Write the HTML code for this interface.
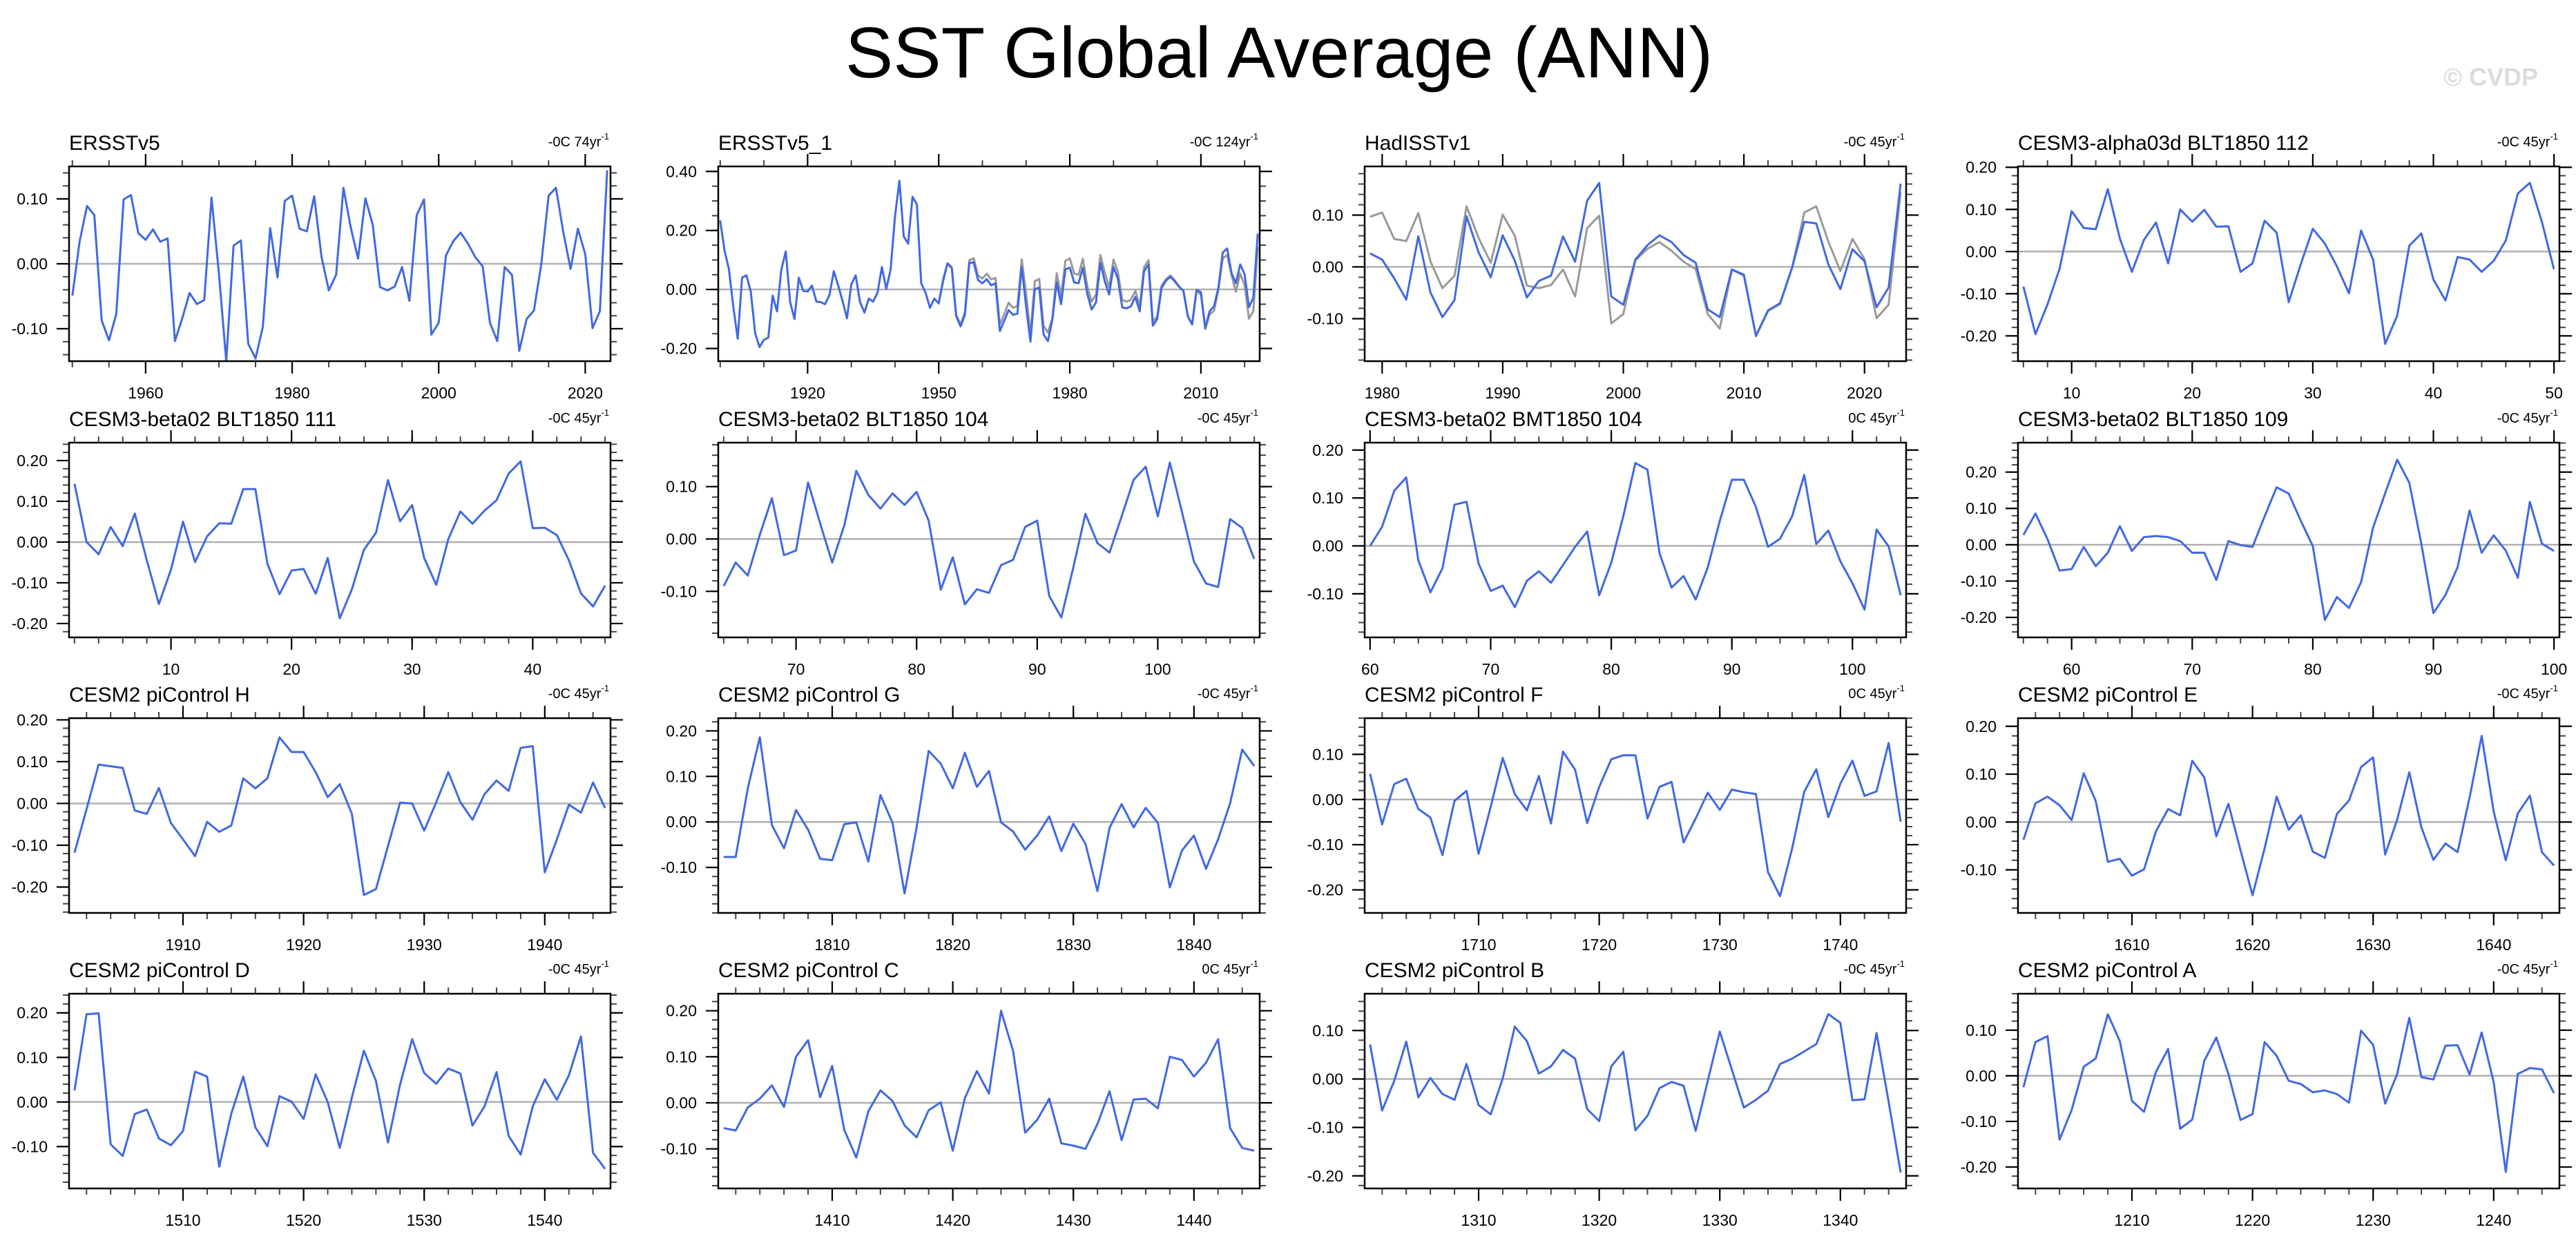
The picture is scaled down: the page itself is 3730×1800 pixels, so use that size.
<!DOCTYPE html>
<html>
<head>
<meta charset="utf-8">
<style>
html,body{margin:0;padding:0;background:#fff;}
svg{display:block;font-family:"Liberation Sans",Arial,sans-serif;}
</style>
</head>
<body>
<svg id="fig" width="3730" height="1800" viewBox="0 0 3730 1800" xmlns="http://www.w3.org/2000/svg">
<rect x="0" y="0" width="3730" height="1800" fill="#fff"/>
<text x="1852" y="112" font-size="104" text-anchor="middle" fill="#000">SST Global Average (ANN)</text>
<text x="3675" y="124" font-size="36" font-weight="bold" text-anchor="end" fill="#dcdcdc">© CVDP</text>
</svg>
<script>
const titles = ["ERSSTv5","ERSSTv5_1","HadISSTv1","CESM3-alpha03d BLT1850 112",
"CESM3-beta02 BLT1850 111","CESM3-beta02 BLT1850 104","CESM3-beta02 BMT1850 104","CESM3-beta02 BLT1850 109",
"CESM2 piControl H","CESM2 piControl G","CESM2 piControl F","CESM2 piControl E",
"CESM2 piControl D","CESM2 piControl C","CESM2 piControl B","CESM2 piControl A"];
const trendLabels = ["-0C 74yr","-0C 124yr","-0C 45yr","-0C 45yr",
"-0C 45yr","-0C 45yr","0C 45yr","-0C 45yr",
"-0C 45yr","-0C 45yr","0C 45yr","-0C 45yr",
"-0C 45yr","0C 45yr","-0C 45yr","-0C 45yr"];
const startYears = [1950,1900,1979,6, 2,64,60,56, 1901,1801,1701,1601, 1501,1401,1301,1201];
const yMins = [-0.15,-0.243,-0.182,-0.26, -0.234,-0.188,-0.191,-0.255, -0.262,-0.2,-0.251,-0.19, -0.194,-0.186,-0.226,-0.247];
const yMaxs = [0.15,0.417,0.194,0.202, 0.244,0.184,0.2155,0.281, 0.204,0.228,0.18,0.217, 0.243,0.237,0.176,0.18];
const yTickLabels = [
 [-0.1,0,0.1],[-0.2,0,0.2,0.4],[-0.1,0,0.1],[-0.2,-0.1,0,0.1,0.2],
 [-0.2,-0.1,0,0.1,0.2],[-0.1,0,0.1],[-0.1,0,0.1,0.2],[-0.2,-0.1,0,0.1,0.2],
 [-0.2,-0.1,0,0.1,0.2],[-0.1,0,0.1,0.2],[-0.2,-0.1,0,0.1],[-0.1,0,0.1,0.2],
 [-0.1,0,0.1,0.2],[-0.1,0,0.1,0.2],[-0.2,-0.1,0,0.1],[-0.2,-0.1,0,0.1]];
const yMinorSteps = [0.02,0.05,0.02,0.02, 0.02,0.02,0.02,0.02, 0.02,0.02,0.02,0.02, 0.02,0.02,0.02,0.02];
const xTickLabels = [
 [1960,1980,2000,2020],[1920,1950,1980,2010],[1980,1990,2000,2010,2020],[10,20,30,40,50],
 [10,20,30,40],[70,80,90,100],[60,70,80,90,100],[60,70,80,90,100],
 [1910,1920,1930,1940],[1810,1820,1830,1840],[1710,1720,1730,1740],[1610,1620,1630,1640],
 [1510,1520,1530,1540],[1410,1420,1430,1440],[1310,1320,1330,1340],[1210,1220,1230,1240]];
const xMinorSteps = [5,10,2,2, 2,2,2,2, 2,2,2,2, 2,2,2,2];

const ersstv5 = [-0.049,0.035,0.089,0.075,-0.087,-0.118,-0.077,0.099,0.106,0.047,
0.037,0.053,0.034,0.039,-0.119,-0.084,-0.045,-0.062,-0.056,0.102,
-0.015,-0.15,0.028,0.036,-0.123,-0.146,-0.097,0.055,-0.021,0.097,
0.105,0.054,0.05,0.104,0.011,-0.041,-0.017,0.117,0.056,0.008,
0.101,0.06,-0.036,-0.041,-0.035,-0.005,-0.057,0.075,0.099,-0.109,
-0.091,0.013,0.035,0.048,0.031,0.01,-0.004,-0.091,-0.119,-0.005,
-0.017,-0.134,-0.085,-0.072,-0.001,0.105,0.117,0.049,-0.008,0.054,
0.015,-0.099,-0.073,0.144];
const ersstv5_1 = [0.234,0.131,0.068,-0.058,-0.167,0.04,0.048,-0.007,-0.149,-0.195,
-0.171,-0.163,-0.021,-0.074,0.068,0.129,-0.043,-0.1,0.04,-0.005,
-0.007,0.013,-0.041,-0.043,-0.05,-0.019,0.062,0.013,-0.039,-0.098,
0.017,0.048,-0.043,-0.078,-0.031,-0.041,-0.011,0.076,0.001,0.068,
0.249,0.368,0.18,0.155,0.314,0.289,0.021,-0.011,-0.062,-0.031,
-0.047,0.028,0.088,0.072,-0.09,-0.125,-0.086,0.09,0.092,0.032,
0.021,0.035,0.014,0.021,-0.141,-0.106,-0.07,-0.086,-0.082,0.076,
-0.058,-0.177,0.001,0.006,-0.153,-0.175,-0.102,0.024,-0.05,0.068,
0.074,0.024,0.021,0.074,-0.015,-0.068,-0.044,0.09,0.028,-0.017,
0.076,0.036,-0.061,-0.064,-0.057,-0.025,-0.074,0.062,0.084,-0.123,
-0.1,0.005,0.03,0.043,0.028,0.009,-0.005,-0.09,-0.118,-0.002,
-0.009,-0.131,-0.074,-0.057,0.005,0.125,0.139,0.056,0.021,0.085,
0.052,-0.06,-0.028,0.189];
const hadisstv1 = [0.026,0.014,-0.022,-0.063,0.059,-0.049,-0.097,-0.064,0.098,0.028,
-0.02,0.061,0.012,-0.059,-0.027,-0.017,0.059,0.01,0.128,0.162,
-0.057,-0.073,0.014,0.042,0.061,0.048,0.023,0.008,-0.082,-0.097,
-0.005,-0.015,-0.133,-0.084,-0.07,-0.001,0.087,0.084,0.005,-0.043,
0.034,0.011,-0.078,-0.04,0.161];
const alpha03d112 = [-0.083,-0.196,-0.125,-0.041,0.096,0.056,0.053,0.148,0.031,-0.048,
0.028,0.069,-0.028,0.1,0.071,0.099,0.059,0.06,-0.048,-0.028,
0.073,0.045,-0.12,-0.03,0.054,0.019,-0.035,-0.099,0.05,-0.019,
-0.219,-0.152,0.014,0.043,-0.066,-0.116,-0.013,-0.019,-0.048,-0.022,
0.026,0.138,0.163,0.07,-0.042];
const beta02blt111 = [0.143,0.0,-0.03,0.037,-0.01,0.07,-0.045,-0.152,-0.068,0.05,
-0.049,0.014,0.046,0.045,0.13,0.13,-0.053,-0.128,-0.07,-0.066,
-0.127,-0.039,-0.187,-0.116,-0.019,0.023,0.152,0.051,0.091,-0.039,
-0.105,0.007,0.075,0.045,0.077,0.103,0.168,0.198,0.034,0.035,
0.017,-0.045,-0.126,-0.158,-0.107];
const beta02blt104 = [-0.09,-0.045,-0.07,0.008,0.078,-0.031,-0.022,0.108,0.03,-0.045,
0.026,0.13,0.084,0.058,0.087,0.065,0.09,0.035,-0.097,-0.035,
-0.125,-0.096,-0.103,-0.05,-0.04,0.023,0.035,-0.109,-0.15,-0.054,
0.048,-0.008,-0.026,0.043,0.113,0.138,0.043,0.146,0.052,-0.043,
-0.085,-0.092,0.038,0.021,-0.038];
const beta02bmt104 = [0.0,0.04,0.115,0.143,-0.03,-0.097,-0.047,0.086,0.092,-0.037,
-0.094,-0.083,-0.128,-0.073,-0.053,-0.077,-0.04,-0.002,0.03,-0.103,
-0.035,0.062,0.173,0.159,-0.015,-0.087,-0.063,-0.112,-0.045,0.052,
0.138,0.138,0.081,-0.002,0.015,0.062,0.148,0.004,0.032,-0.032,
-0.078,-0.133,0.034,-0.001,-0.103];
const beta02blt109 = [0.027,0.086,0.015,-0.071,-0.067,-0.006,-0.059,-0.022,0.051,-0.017,
0.021,0.024,0.021,0.01,-0.022,-0.022,-0.097,0.01,-0.001,-0.006,
0.078,0.158,0.141,0.066,-0.004,-0.207,-0.144,-0.174,-0.103,0.047,
0.142,0.234,0.171,0.002,-0.188,-0.138,-0.062,0.094,-0.022,0.026,
-0.016,-0.091,0.118,0.003,-0.017];
const piControlH = [-0.118,-0.014,0.093,0.089,0.085,-0.017,-0.025,0.037,-0.047,-0.086,
-0.126,-0.044,-0.068,-0.053,0.06,0.036,0.06,0.158,0.123,0.123,
0.075,0.015,0.046,-0.025,-0.219,-0.205,-0.102,0.002,0.0,-0.065,
0.003,0.075,0.003,-0.039,0.022,0.055,0.03,0.133,0.137,-0.165,
-0.086,-0.003,-0.022,0.05,-0.011];
const piControlG = [-0.077,-0.077,0.074,0.186,-0.007,-0.058,0.026,-0.017,-0.081,-0.084,
-0.005,-0.001,-0.087,0.059,-0.002,-0.157,-0.012,0.156,0.128,0.074,
0.152,0.077,0.112,-0.001,-0.021,-0.061,-0.03,0.012,-0.064,-0.004,
-0.048,-0.152,-0.013,0.039,-0.012,0.031,-0.002,-0.144,-0.063,-0.03,
-0.103,-0.038,0.041,0.159,0.123];
const piControlF = [0.057,-0.055,0.034,0.046,-0.021,-0.04,-0.123,-0.003,0.019,-0.12,
-0.016,0.092,0.012,-0.024,0.052,-0.053,0.106,0.066,-0.052,0.028,
0.089,0.098,0.098,-0.042,0.028,0.039,-0.095,-0.042,0.015,-0.023,
0.022,0.016,0.012,-0.161,-0.214,-0.108,0.017,0.067,-0.039,0.035,
0.086,0.008,0.018,0.125,-0.049];
const piControlE = [-0.037,0.039,0.053,0.035,0.004,0.102,0.044,-0.083,-0.077,-0.112,
-0.099,-0.019,0.027,0.014,0.128,0.093,-0.03,0.038,-0.059,-0.153,
-0.055,0.053,-0.016,0.014,-0.062,-0.075,0.017,0.045,0.115,0.135,
-0.068,0.005,0.104,-0.011,-0.079,-0.045,-0.063,0.051,0.18,0.022,
-0.08,0.018,0.055,-0.063,-0.091];
const piControlD = [0.026,0.197,0.199,-0.095,-0.121,-0.027,-0.017,-0.082,-0.097,-0.065,
0.068,0.057,-0.145,-0.026,0.057,-0.057,-0.099,0.013,0.001,-0.038,
0.062,0.0,-0.103,0.01,0.115,0.047,-0.091,0.039,0.141,0.065,
0.041,0.075,0.064,-0.053,-0.01,0.067,-0.076,-0.118,-0.01,0.051,
0.005,0.06,0.147,-0.114,-0.15];
const piControlC = [-0.055,-0.06,-0.01,0.009,0.038,-0.009,0.1,0.136,0.012,0.08,
-0.059,-0.119,-0.018,0.027,0.004,-0.049,-0.075,-0.016,0.001,-0.104,
0.01,0.069,0.02,0.2,0.113,-0.065,-0.037,0.009,-0.088,-0.093,
-0.1,-0.046,0.025,-0.081,0.007,0.009,-0.012,0.1,0.093,0.057,
0.087,0.138,-0.055,-0.098,-0.104];
const piControlB = [0.071,-0.065,-0.004,0.077,-0.038,0.002,-0.031,-0.043,0.031,-0.054,
-0.073,0.001,0.108,0.078,0.011,0.026,0.06,0.042,-0.062,-0.087,
0.026,0.056,-0.106,-0.076,-0.019,-0.006,-0.014,-0.107,-0.004,0.098,
0.019,-0.059,-0.043,-0.024,0.031,0.042,0.057,0.072,0.134,0.116,
-0.044,-0.042,0.095,-0.047,-0.193];
const piControlA = [-0.025,0.074,0.087,-0.14,-0.075,0.02,0.038,0.135,0.076,-0.055,
-0.079,0.009,0.059,-0.116,-0.096,0.033,0.084,0.004,-0.097,-0.084,
0.074,0.044,-0.011,-0.018,-0.036,-0.032,-0.04,-0.059,0.099,0.068,
-0.061,0.004,0.127,-0.003,-0.008,0.066,0.067,0.003,0.095,-0.014,
-0.211,0.004,0.017,0.014,-0.038];

const seriesValues = [ersstv5,ersstv5_1,hadisstv1,alpha03d112,
 beta02blt111,beta02blt104,beta02bmt104,beta02blt109,
 piControlH,piControlG,piControlF,piControlE,
 piControlD,piControlC,piControlB,piControlA];
const referenceStartYear = 1950;
const referenceValues = ersstv5;
const referencePanels = [1,2];

const NS = "http://www.w3.org/2000/svg";
const svg = document.getElementById('fig');
const colLeft = [100,1040,1976,2922];
const rowTop = [241,641,1040,1439];
const FW = 784, FH = 282;

function mk(tag, attrs, parent){
  const e = document.createElementNS(NS, tag);
  for (const k in attrs) e.setAttribute(k, attrs[k]);
  (parent||svg).appendChild(e);
  return e;
}
function fmt(v){ return (Math.abs(v)<1e-9 ? 0 : v).toFixed(2); }

for (let p = 0; p < 16; p++){
  const L = colLeft[p%4], T = rowTop[Math.floor(p/4)];
  const vals = seriesValues[p];
  const x0 = startYears[p] - 0.45, x1 = startYears[p] + vals.length - 1 + 0.45;
  const ymin = yMins[p], ymax = yMaxs[p];
  const sx = v => L + (v - x0) / (x1 - x0) * FW;
  const sy = v => T + (ymax - v) / (ymax - ymin) * FH;

  const g = mk('g', {});
  
  

  const tt = mk('text', {x:L, y:T-24, 'font-size':30, fill:'#000'}, g);
  tt.textContent = titles[p];
  
  
  const tr = mk('text', {x:L+FW-2, y:T-29, 'font-size':20, fill:'#000', 'text-anchor':'end'}, g);
  
  
  const t1 = mk('tspan', {}, tr); t1.textContent = trendLabels[p];
  const t2 = mk('tspan', {dy:-10, 'font-size':13}, tr); t2.textContent = '-1';

  const zl = mk('line', {x1:L, x2:L+FW, y1:sy(0), y2:sy(0), stroke:'#b0b0b0', 'stroke-width':2.5}, g);
  
  

  const ys = yMinorSteps[p];
  for (let v = Math.ceil((ymin-1e-9)/ys)*ys; v <= ymax+1e-9; v += ys){
    const y = sy(v);
    mk('line', {x1:L-9, x2:L, y1:y, y2:y, stroke:'#444', 'stroke-width':2}, g);
    mk('line', {x1:L+FW, x2:L+FW+9, y1:y, y2:y, stroke:'#444', 'stroke-width':2}, g);
  }
  yTickLabels[p].forEach(v => {
    const y = sy(v);
    mk('line', {x1:L-18, x2:L, y1:y, y2:y, stroke:'#000', 'stroke-width':2.2}, g);
    mk('line', {x1:L+FW, x2:L+FW+18, y1:y, y2:y, stroke:'#000', 'stroke-width':2.2}, g);
    const lb = mk('text', {x:L-31, y:y+8, 'font-size':23, 'text-anchor':'end', fill:'#000'}, g);
    lb.textContent = fmt(v);
    
    
  });
  const xs = xMinorSteps[p];
  for (let v = Math.ceil(x0/xs)*xs; v <= x1; v += xs){
    const x = sx(v);
    mk('line', {x1:x, x2:x, y1:T-9, y2:T, stroke:'#444', 'stroke-width':2}, g);
    mk('line', {x1:x, x2:x, y1:T+FH, y2:T+FH+9, stroke:'#444', 'stroke-width':2}, g);
  }
  xTickLabels[p].forEach(v => {
    const x = sx(v);
    mk('line', {x1:x, x2:x, y1:T-18, y2:T, stroke:'#000', 'stroke-width':2.2}, g);
    mk('line', {x1:x, x2:x, y1:T+FH, y2:T+FH+18, stroke:'#000', 'stroke-width':2.2}, g);
    const lb = mk('text', {x:x, y:T+FH+54, 'font-size':23, 'text-anchor':'middle', fill:'#000'}, g);
    lb.textContent = String(v);
    
    
  });

  const cp = mk('clipPath', {id:'clip'+p}, g);
  mk('rect', {x:L, y:T, width:FW, height:FH}, cp);

  if (referencePanels.indexOf(p) >= 0){
    const pts = [];
    referenceValues.forEach((v,i) => {
      const yr = referenceStartYear + i;
      if (yr >= startYears[p] && yr <= startYears[p] + vals.length - 1)
        pts.push(sx(yr).toFixed(1) + ',' + sy(v).toFixed(1));
    });
    const rl = mk('polyline', {points:pts.join(' '), fill:'none', stroke:'#999999', 'stroke-width':3, 'stroke-linejoin':'round', 'clip-path':'url(#clip'+p+')'}, g);
    
    
  }
  const pts = vals.map((v,i) => sx(startYears[p]+i).toFixed(1) + ',' + sy(v).toFixed(1));
  const sl = mk('polyline', {points:pts.join(' '), fill:'none', stroke:'#4169e1', 'stroke-width':3, 'stroke-linejoin':'round', 'clip-path':'url(#clip'+p+')'}, g);
  
  

  const fr = mk('rect', {x:L, y:T, width:FW, height:FH, fill:'none', stroke:'#000', 'stroke-width':2.5}, g);
  
  
}
</script>
</body>
</html>
